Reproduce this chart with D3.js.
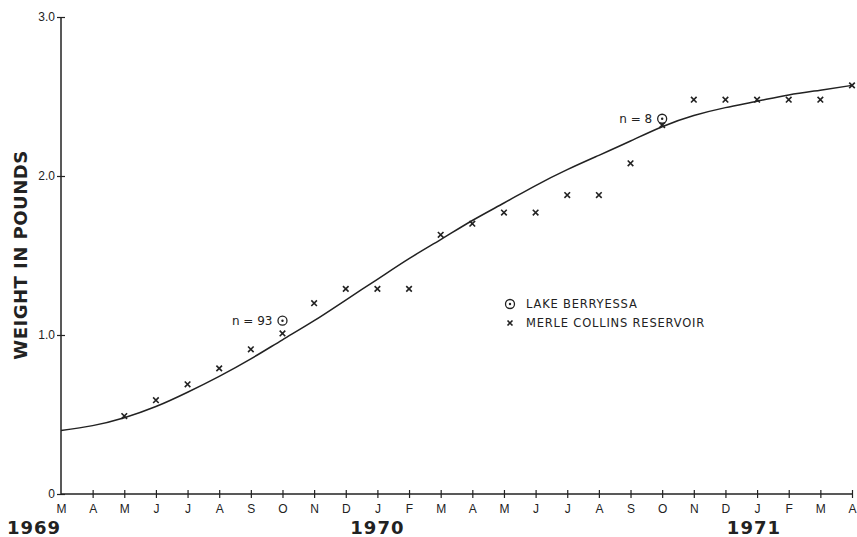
<!DOCTYPE html>
<html><head><meta charset="utf-8">
<script src="https://cdn.jsdelivr.net/npm/d3@7"></script>
<style>
html,body{margin:0;padding:0;background:#fff;}
svg{display:block;font-family:"DejaVu Sans","Liberation Sans",sans-serif;}
</style></head>
<body>
<svg id="chart" width="857" height="537"></svg>
<script>
// Month index 0 = March 1969 ... 25 = April 1971
const monthLabels = ["M","A","M","J","J","A","S","O","N","D","J","F","M","A","M","J","J","A","S","O","N","D","J","F","M","A"];
const yearLabels = [{label:"1969", m:-0.85},{label:"1970", m:10},{label:"1971", m:21.9}];
const yTicks = [0,1,2,3];
// Merle Collins Reservoir: month index and weight (lb)
const merleMonths = [2,3,4,5,6,7,8,9,10,11,12,13,14,15,16,17,18,19,20,21,22,23,24,25];
const merleValues = [0.49,0.59,0.69,0.79,0.91,1.01,1.20,1.29,1.29,1.29,1.63,1.70,1.77,1.77,1.88,1.88,2.08,2.32,2.48,2.48,2.48,2.48,2.48,2.57];
// Lake Berryessa
const berMonths = [7,19];
const berValues = [1.09,2.36];
const berLabels = ["n = 93","n = 8"];
// Fitted growth curve
const curveMonths = [0,1,2,3,4,5,6,7,8,9,10,11,12,13,14,15,16,17,18,19,20,21,22,23,24,25];
const curveValues = [0.40,0.43,0.48,0.55,0.64,0.74,0.85,0.97,1.09,1.22,1.35,1.48,1.60,1.72,1.83,1.94,2.04,2.13,2.22,2.31,2.38,2.43,2.47,2.51,2.54,2.57];

const svg = d3.select("#chart");
const x = d3.scaleLinear().domain([0,25]).range([61,852]);
const y = d3.scaleLinear().domain([0,3]).range([494,17]);

// Y axis
const yAxis = d3.axisLeft(y).tickValues(yTicks).tickFormat(d => d===0 ? "0" : d3.format(".1f")(d)).tickSize(4).tickPadding(3);
const gy = svg.append("g").attr("transform",`translate(${x(0)},0)`).call(yAxis);
gy.select(".domain").attr("stroke","#222").attr("stroke-width",1.5).attr("d",`M0,${y(0)}V${y(3)}`);
gy.selectAll(".tick line").attr("x1",-4).attr("x2",4).attr("stroke","#222").attr("stroke-width",1.2);
gy.selectAll(".tick text").attr("font-size",12).attr("fill","#222").attr("x",-6);

// X axis
const xAxis = d3.axisBottom(x).tickValues(d3.range(0,26)).tickFormat(i => monthLabels[i]).tickSize(4).tickPadding(6);
const gx = svg.append("g").attr("transform",`translate(0,${y(0)})`).call(xAxis);
gx.select(".domain").attr("stroke","#222").attr("stroke-width",1.5).attr("d",`M${x(0)},0H${x(25)}`);
gx.selectAll(".tick line").attr("y1",-4).attr("y2",4).attr("stroke","#222").attr("stroke-width",1.2);
gx.selectAll(".tick text").attr("font-size",12).attr("fill","#222");
gx.selectAll(".tick").filter(d => d===0).select("line").remove();

// Year labels
svg.append("g").selectAll("text").data(yearLabels).join("text")
  .attr("x", d => x(d.m)).attr("y", 534).attr("text-anchor","middle")
  .attr("font-size",18).attr("font-weight","bold").attr("fill","#222").attr("letter-spacing",1)
  .text(d => d.label);

// Y title
svg.append("text").attr("transform","translate(27,255) rotate(-90)")
  .attr("text-anchor","middle").attr("font-size",18).attr("font-weight","bold").attr("fill","#222")
  .attr("letter-spacing",0.5)
  .text("WEIGHT IN POUNDS");

// Curve
const line = d3.line().x(d => x(d[0])).y(d => y(d[1])).curve(d3.curveNatural);
svg.append("path").datum(curveMonths.map((m,i)=>[m,curveValues[i]]))
  .attr("d",line).attr("fill","none").attr("stroke","#222").attr("stroke-width",1.5);

// x markers
function xMark(g, cx, cy, s) {
  g.append("path").attr("d",`M${cx-s},${cy-s}L${cx+s},${cy+s}M${cx+s},${cy-s}L${cx-s},${cy+s}`)
   .attr("stroke","#222").attr("stroke-width",1.6).attr("fill","none");
}
const gm = svg.append("g");
merleMonths.forEach((m,i) => xMark(gm, x(m), y(merleValues[i]), 2.8));

// circle markers
function cMark(g, cx, cy) {
  g.append("circle").attr("cx",cx).attr("cy",cy).attr("r",4.5).attr("fill","#fff").attr("stroke","#222").attr("stroke-width",1.3);
  g.append("circle").attr("cx",cx).attr("cy",cy).attr("r",1.2).attr("fill","#222");
}
const gb = svg.append("g");
berMonths.forEach((m,i) => {
  cMark(gb, x(m), y(berValues[i]));
  gb.append("text").attr("x", x(m)-10).attr("y", y(berValues[i])).attr("dy","0.35em")
    .attr("text-anchor","end").attr("font-size",12).attr("fill","#222").text(berLabels[i]);
});

// Legend
const lg = svg.append("g");
cMark(lg, 510, 304);
lg.append("text").attr("x",526).attr("y",304).attr("dy","0.35em").attr("font-size",11.5).attr("fill","#222").attr("letter-spacing",0.8).text("LAKE BERRYESSA");
xMark(lg, 510, 323, 2.5);
lg.append("text").attr("x",526).attr("y",323).attr("dy","0.35em").attr("font-size",11.5).attr("fill","#222").attr("letter-spacing",0.8).text("MERLE COLLINS RESERVOIR");
</script>
</body></html>
